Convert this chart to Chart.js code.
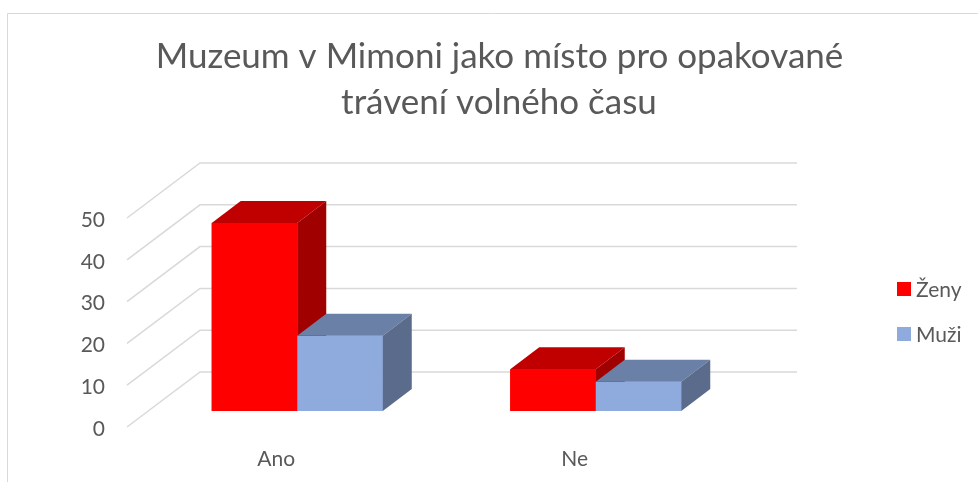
<!DOCTYPE html>
<html>
<head>
<meta charset="utf-8">
<script src="https://cdn.jsdelivr.net/npm/chart.js@4.4.1/dist/chart.umd.min.js"></script>
<style>
    html, body { margin: 0; padding: 0; background: #fff; }
    canvas { display: block; }
</style>
</head>
<body>
<canvas id="chart" width="978" height="482"></canvas>
<script>
// values
const categories = ['Ano', 'Ne'];
const zeny = [45, 10];
const muzi = [18, 7];
const yTicks = [0, 10, 20, 30, 40, 50];
const seriesNames = ['Ženy', 'Muži'];
const titleLines = ['Muzeum v Mimoni jako místo pro opakované', 'trávení volného času'];

const textColor = '#595959';
const gridColor = '#d9d9d9';
const fontFamily = 'Lato, "Open Sans", sans-serif';

// colours of the fronts, tops and sides of the boxes
const frontColors = ['rgb(255,0,0)', 'rgb(143,170,220)'];
const topColors = ['rgb(192,0,0)', 'rgb(107,128,166)'];
const sideColors = ['rgb(161,0,0)', 'rgb(91,107,139)'];

// offsets of the fake 3d look (px)
const frontEdge = { dx: -21, dy: 16 };   // front-left edge where the labels sit
const barDepth = { dx: 29, dy: -22 };
const backWall = { dx: 52, dy: -39 };

function poly(ctx, pts, color) {
    ctx.fillStyle = color;
    ctx.beginPath();
    ctx.moveTo(pts[0][0], pts[0][1]);
    pts.slice(1).forEach(p => ctx.lineTo(p[0], p[1]));
    ctx.closePath();
    ctx.fill();
}

const box3d = {
    id: 'box3d',
    beforeDraw(chart) {
        const ctx = chart.ctx;
        ctx.save();
        ctx.fillStyle = '#fff';
        ctx.fillRect(0, 0, chart.width, chart.height);
        // outer frame (only left and top are in the picture)
        ctx.strokeStyle = gridColor;
        ctx.lineWidth = 1;
        ctx.beginPath();
        ctx.moveTo(7.5, chart.height);
        ctx.lineTo(7.5, 13.5);
        ctx.lineTo(chart.width, 13.5);
        ctx.stroke();
        ctx.restore();
    },
    beforeDatasetsDraw(chart) {
        // side wall diagonals and back wall lines
        const { ctx, chartArea: a, scales: { y } } = chart;
        ctx.save();
        ctx.strokeStyle = gridColor;
        ctx.lineWidth = 1.5;
        y.ticks.forEach(t => {
            const py = y.getPixelForValue(t.value);
            ctx.beginPath();
            ctx.moveTo(a.left + frontEdge.dx, py + frontEdge.dy);
            ctx.lineTo(a.left + backWall.dx, py + backWall.dy);
            ctx.lineTo(a.right + backWall.dx, py + backWall.dy);
            ctx.stroke();
        });
        ctx.restore();
    },
    afterDatasetsDraw(chart) {
        // redraw boxes in dataset order so the sides overlap correctly
        const ctx = chart.ctx;
        ctx.save();
        chart.data.datasets.forEach((ds, i) => {
            chart.getDatasetMeta(i).data.forEach(bar => {
                const p = bar.getProps(['x', 'y', 'base', 'width'], true);
                const l = p.x - p.width / 2, r = p.x + p.width / 2;
                const dx = barDepth.dx, dy = barDepth.dy;
                ctx.fillStyle = frontColors[i];
                ctx.fillRect(l, p.y, p.width, p.base - p.y);
                poly(ctx, [[l, p.y], [l + dx, p.y + dy], [r + dx, p.y + dy], [r, p.y]], topColors[i]);
                poly(ctx, [[r, p.y], [r + dx, p.y + dy], [r + dx, p.base + dy], [r, p.base]], sideColors[i]);
            });
        });
        ctx.restore();
    },
    afterDraw(chart) {
        const ctx = chart.ctx;
        ctx.save();
        // title
        ctx.fillStyle = textColor;
        ctx.font = '35px ' + fontFamily;
        ctx.textAlign = 'center';
        ctx.textBaseline = 'alphabetic';
        ctx.fillText(titleLines[0], 499.5, 68);
        ctx.fillText(titleLines[1], 499, 114);
        // legend
        ctx.font = '21px ' + fontFamily;
        ctx.textAlign = 'left';
        ctx.textBaseline = 'middle';
        chart.data.datasets.forEach((ds, i) => {
            const cy = 289 + i * 45;
            ctx.fillStyle = frontColors[i];
            ctx.fillRect(897, cy - 7, 14, 14);
            ctx.fillStyle = textColor;
            ctx.fillText(ds.label, 916, cy + 1);
        });
        ctx.restore();
    }
};

new Chart(document.getElementById('chart'), {
    type: 'bar',
    data: {
        labels: categories,
        datasets: [
            { label: seriesNames[0], data: zeny, backgroundColor: frontColors[0] },
            { label: seriesNames[1], data: muzi, backgroundColor: frontColors[1] }
        ]
    },
    options: {
        responsive: false,
        animation: false,
        devicePixelRatio: 1,
        layout: { padding: { top: 202, right: 233, left: 0, bottom: 0 } },
        datasets: { bar: { barPercentage: 1, categoryPercentage: 0.573, borderWidth: 0 } },
        plugins: {
            legend: { display: false },
            title: { display: false },
            tooltip: { enabled: false }
        },
        scales: {
            x: {
                grid: { display: false, drawTicks: false },
                border: { display: false },
                ticks: { color: textColor, font: { family: fontFamily, size: 21 }, padding: 36, labelOffset: -21 },
                afterFit: s => { s.height = 71; }
            },
            y: {
                min: 0,
                max: 50,
                grid: { display: false, drawTicks: false },
                border: { display: false },
                ticks: { color: textColor, font: { family: fontFamily, size: 21 }, padding: 43, labelOffset: 18 },
                afterBuildTicks: s => { s.ticks = yTicks.map(v => ({ value: v })); },
                afterFit: s => { s.width = 148; }
            }
        }
    },
    plugins: [box3d]
});
</script>
</body>
</html>
